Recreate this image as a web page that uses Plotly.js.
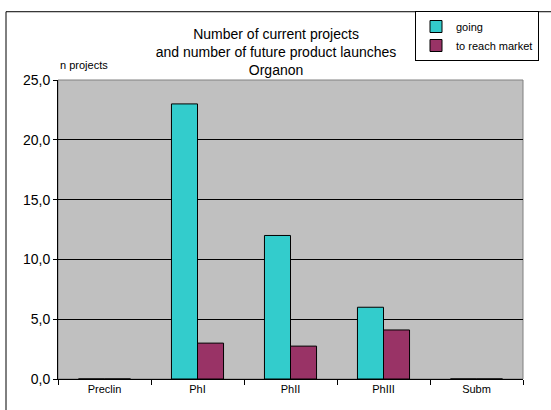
<!DOCTYPE html>
<html>
<head>
<meta charset="utf-8">
<script src="https://cdn.plot.ly/plotly-3.0.1.min.js"></script>
<style>html,body{margin:0;padding:0;background:#fff;}#chart{width:551px;height:410px;}</style>
</head>
<body>
<div id="chart"></div>
<script>
var categories = ["Preclin", "PhI", "PhII", "PhIII", "Subm"];
var going = [0, 23, 12, 6, 0];
var toReachMarket = [0, 3, 2.75, 4.1, 0];
var seriesNames = ["going", "to reach market"];
var yTicks = [0, 5, 10, 15, 20, 25];

var font = "Liberation Sans, Arial, sans-serif";
var traces = [
  {type: "bar", name: seriesNames[0], x: categories, y: going,
   marker: {color: "#33CCCC", line: {color: "#000000", width: 1}}},
  {type: "bar", name: seriesNames[1], x: categories, y: toReachMarket,
   marker: {color: "#993366", line: {color: "#000000", width: 1}}}
];

var layout = {
  width: 551, height: 410,
  margin: {l: 58, r: 28, t: 79, b: 31, pad: 0},
  paper_bgcolor: "#ffffff",
  plot_bgcolor: "#C0C0C0",
  font: {family: font, color: "#000000"},
  barmode: "group",
  bargap: 0.44,
  bargroupgap: 0,
  title: {
    text: "Number of current projects<br>and number of future product launches<br>Organon",
    font: {size: 14, family: font, color: "#000"},
    x: 0.501, xref: "container", xanchor: "center",
    y: 1 - 39 / 410, yref: "container", yanchor: "top"
  },
  xaxis: {
    type: "category",
    tickson: "boundaries",
    ticks: "outside", ticklen: 5, tickcolor: "#000", tickwidth: 1,
    showline: true, linecolor: "#000", linewidth: 1,
    showgrid: false,
    tickfont: {size: 11, family: font},
    fixedrange: true
  },
  yaxis: {
    range: [0, 25],
    tickvals: yTicks,
    tickformat: ".1f",
    ticks: "outside", ticklen: 4, tickcolor: "#000",
    showline: true, linecolor: "#000", linewidth: 1,
    showgrid: true, gridcolor: "#000000", gridwidth: 1,
    zeroline: false,
    tickfont: {size: 14, family: font},
    fixedrange: true
  },
  separators: ",.",
  showlegend: true,
  legend: {
    x: (415 - 58) / 465, y: (379 - 11) / 300,
    xanchor: "left", yanchor: "top",
    bgcolor: "#ffffff", bordercolor: "#000000", borderwidth: 1,
    font: {size: 11, family: font},
    tracegroupgap: 0,
    traceorder: "normal"
  },
  annotations: [
    {text: "n projects", xref: "paper", yref: "paper",
     x: 0, y: (379 - 64) / 300, xanchor: "left", yanchor: "middle",
     showarrow: false, font: {size: 11, family: font}}
  ],
  shapes: [
    {type: "rect", xref: "paper", yref: "paper", x0: 0, x1: 1, y0: 0, y1: 1,
     line: {color: "#808080", width: 1}, layer: "below"},
    {type: "rect", xref: "paper", yref: "paper",
     x0: (6 - 58) / 465, x1: 1.2, y0: -0.2, y1: (379 - 10.5) / 300,
     line: {color: "#000000", width: 1}, fillcolor: "rgba(0,0,0,0)"}
  ]
};

Plotly.newPlot("chart", traces, layout, {displayModeBar: false, staticPlot: true});
</script>
</body>
</html>
